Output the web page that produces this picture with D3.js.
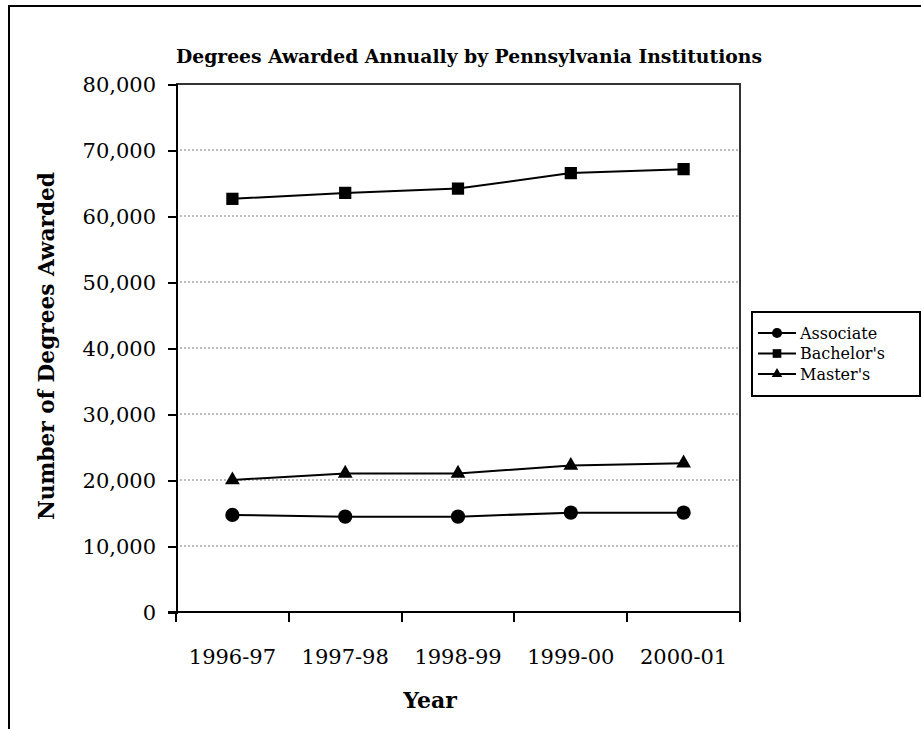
<!DOCTYPE html>
<html>
<head>
<meta charset="utf-8">
<script src="https://cdn.jsdelivr.net/npm/d3@7"></script>
<style>
  body { margin: 0; background: #fff; }
  text { font-family: "DejaVu Serif", "Liberation Serif", serif; fill: #000; }
</style>
</head>
<body>
<div id="chart"></div>
<script>
// data
var years = ["1996-97", "1997-98", "1998-99", "1999-00", "2000-01"];
var associate = [14700, 14450, 14450, 15050, 15050];
var bachelors = [62600, 63500, 64150, 66500, 67100];
var masters = [20000, 21000, 21000, 22200, 22550];
var yTicks = [0, 10000, 20000, 30000, 40000, 50000, 60000, 70000, 80000];

var series = [
    { name: "Associate", values: associate, symbol: d3.symbolCircle, size: 160 },
    { name: "Bachelor's", values: bachelors, symbol: d3.symbolSquare, size: 150 },
    { name: "Master's", values: masters, symbol: d3.symbolTriangle, size: 95 }
];

var W = 921, H = 729;
var plot = { left: 176, right: 740, top: 84, bottom: 612 };

var svg = d3.select("#chart").append("svg")
    .attr("width", W)
    .attr("height", H);

// outer frame (cropped on the right / bottom)
svg.append("rect")
    .attr("x", 9).attr("y", 6)
    .attr("width", W).attr("height", H)
    .attr("fill", "none")
    .attr("stroke", "#000")
    .attr("stroke-width", 2)
    .attr("shape-rendering", "crispEdges");

var x = d3.scaleBand().domain(years).range([plot.left, plot.right]);
var y = d3.scaleLinear().domain([0, 80000]).range([plot.bottom, plot.top]);

// gridlines
svg.append("g")
    .selectAll("line")
    .data(yTicks.filter(function(d) { return d > 0 && d < 80000 }))
    .enter()
    .append("line")
    .attr("x1", plot.left).attr("x2", plot.right)
    .attr("y1", function(d) { return y(d) }).attr("y2", function(d) { return y(d) })
    .attr("stroke", "#bdbdbd")
    .attr("stroke-width", 2)
    .attr("stroke-dasharray", "2,2")
    .attr("shape-rendering", "crispEdges");

// plot frame top / right (dark grey)
svg.append("path")
    .attr("d", "M" + plot.left + "," + y(80000) + "H" + plot.right + "V" + plot.bottom)
    .attr("fill", "none")
    .attr("stroke", "#333")
    .attr("stroke-width", 2)
    .attr("shape-rendering", "crispEdges");

// y axis
var yAxis = svg.append("g")
    .attr("transform", "translate(" + plot.left + ",0)")
    .call(d3.axisLeft(y).tickValues(yTicks).tickSize(8).tickPadding(12)
        .tickFormat(d3.format(",")));
yAxis.selectAll("path, line")
    .attr("stroke", "#000").attr("stroke-width", 2).attr("shape-rendering", "crispEdges");
yAxis.selectAll("text")
    .attr("font-family", "DejaVu Serif")
    .attr("font-size", 21)
    .attr("dy", "0.36em");

// x axis
var xAxis = svg.append("g")
    .attr("transform", "translate(0," + plot.bottom + ")")
    .call(d3.axisBottom(x).tickSize(0).tickPadding(37));
xAxis.select(".domain")
    .attr("d", "M" + (plot.left - 8) + ",0H" + plot.right)
    .attr("stroke", "#000").attr("stroke-width", 2).attr("shape-rendering", "crispEdges");
xAxis.selectAll("text")
    .attr("font-family", "DejaVu Serif")
    .attr("font-size", 21);
// tick marks between categories
xAxis.selectAll(".sep")
    .data(years.concat(["end"]))
    .enter()
    .append("line")
    .attr("class", "sep")
    .attr("x1", function(d, i) { return plot.left + i * x.bandwidth() })
    .attr("x2", function(d, i) { return plot.left + i * x.bandwidth() })
    .attr("y1", 0).attr("y2", 10)
    .attr("stroke", "#000").attr("stroke-width", 2).attr("shape-rendering", "crispEdges");

// lines and markers
var line = d3.line()
    .x(function(d, i) { return x(years[i]) + x.bandwidth() / 2 })
    .y(function(d) { return y(d) });

series.forEach(function(s) {
    svg.append("path")
        .datum(s.values)
        .attr("d", line)
        .attr("fill", "none")
        .attr("stroke", "#000")
        .attr("stroke-width", 2);

    svg.append("g")
        .selectAll("path")
        .data(s.values)
        .enter()
        .append("path")
        .attr("d", d3.symbol().type(s.symbol).size(s.size))
        .attr("transform", function(d, i) {
            return "translate(" + (x(years[i]) + x.bandwidth() / 2) + "," + y(d) + ")"
        })
        .attr("fill", "#000");
});

// title
svg.append("text")
    .attr("x", 469)
    .attr("y", 63)
    .attr("text-anchor", "middle")
    .attr("font-weight", "bold")
    .attr("font-size", 19)
    .attr("textLength", 586)
    .attr("lengthAdjust", "spacingAndGlyphs")
    .text("Degrees Awarded Annually by Pennsylvania Institutions");

// y label
svg.append("text")
    .attr("transform", "translate(54,346) rotate(-90)")
    .attr("text-anchor", "middle")
    .attr("font-weight", "bold")
    .attr("font-size", 23)
    .attr("textLength", 348)
    .attr("lengthAdjust", "spacingAndGlyphs")
    .text("Number of Degrees Awarded");

// x label
svg.append("text")
    .attr("x", 430)
    .attr("y", 708)
    .attr("text-anchor", "middle")
    .attr("font-weight", "bold")
    .attr("font-size", 22)
    .text("Year");

// legend
var legend = svg.append("g");
legend.append("rect")
    .attr("x", 752).attr("y", 312)
    .attr("width", 168).attr("height", 84)
    .attr("fill", "#fff")
    .attr("stroke", "#000")
    .attr("stroke-width", 2)
    .attr("shape-rendering", "crispEdges");

var rows = legend.selectAll(".row")
    .data(series)
    .enter()
    .append("g")
    .attr("class", "row")
    .attr("transform", function(d, i) { return "translate(0," + (333 + i * 20.5) + ")" });

rows.append("line")
    .attr("x1", 758).attr("x2", 796)
    .attr("y1", 0).attr("y2", 0)
    .attr("stroke", "#000").attr("stroke-width", 2);
rows.append("path")
    .attr("d", function(d) { return d3.symbol().type(d.symbol).size(d.size * 0.5)() })
    .attr("transform", "translate(777,0)")
    .attr("fill", "#000");
rows.append("text")
    .attr("x", 800)
    .attr("y", 0)
    .attr("dy", "0.35em")
    .attr("font-size", 16)
    .text(function(d) { return d.name });
</script>
</body>
</html>
